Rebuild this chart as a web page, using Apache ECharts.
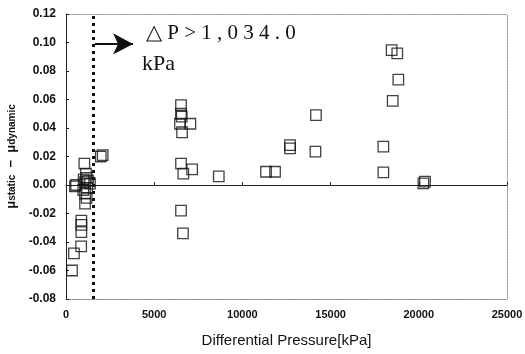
<!DOCTYPE html>
<html>
<head>
<meta charset="utf-8">
<script src="https://cdn.jsdelivr.net/npm/echarts@6/dist/echarts.min.js"></script>
<style>
  html, body { margin: 0; padding: 0; background: #fff; }
  #chart { width: 525px; height: 354px; }
</style>
</head>
<body>
<div id="chart"></div>
<script>
// Differential pressure [kPa] vs static - dynamic friction coefficient
const pressure = [
  340, 450, 860, 870, 870, 870, 1080, 1170, 1080, 980, 510, 570, 1080, 1360, 1170, 1130, 1040, 1250, 1000, 1200,
  1970, 2080,
  6520, 6520, 6560, 6460, 7050, 6580, 6520, 7150, 6650, 6520, 6630,
  8660, 11340, 11850, 12700, 12700, 14170, 14140,
  18460, 18780, 18840, 18520, 17990, 17990, 20260, 20350,
];
const muDiff = [
  -0.060, -0.048, -0.043, -0.033, -0.028, -0.025, -0.013, -0.009, -0.006, -0.0035, -0.001, 0.000, 0.002, 0.001, 0.005, 0.008, 0.015, 0.003, 0.004, -0.002,
  0.020, 0.021,
  0.056, 0.050, 0.048, 0.043, 0.043, 0.037, 0.015, 0.011, 0.008, -0.018, -0.034,
  0.006, 0.0093, 0.0093, 0.0257, 0.028, 0.049, 0.0234,
  0.0947, 0.0924, 0.074, 0.059, 0.027, 0.0089, 0.0012, 0.0023,
];
const thresholdP = 1530;               // dotted threshold line
const arrowFrom = [1640, 0.099];
const arrowTo = [3800, 0.099];

const tickFont = { fontFamily: "Liberation Sans", fontWeight: "bold", color: "#111" };
const solidArrow = { type: "solid", width: 2, color: "#111" };

const chart = echarts.init(document.getElementById("chart"));
chart.setOption({
  animation: false,
  grid: { left: 66, right: 18, top: 14, bottom: 55, containLabel: false, outerBoundsMode: "none" },
  xAxis: [
    {
      type: "value", min: 0, max: 25000, interval: 5000, position: "bottom",
      axisLine: { onZero: false, lineStyle: { color: "#888", type: [2, 1] } },
      axisTick: { show: false },
      splitLine: { show: false },
      axisLabel: { ...tickFont, fontSize: 11, margin: 10, formatter: (v) => String(v) },
      name: "Differential Pressure[kPa]", nameLocation: "middle", nameGap: 34,
      nameTextStyle: { fontFamily: "Liberation Sans", fontSize: 15, color: "#111" },
    },
    {
      // zero line carrying the x ticks
      type: "value", min: 0, max: 25000, interval: 5000, position: "bottom",
      axisLine: { onZero: true, lineStyle: { color: "#222", width: 1 } },
      axisTick: { show: true, inside: true, length: 3, lineStyle: { color: "#222" } },
      axisLabel: { show: false }, splitLine: { show: false },
    },
    {
      type: "value", min: 0, max: 25000, position: "top",
      axisLine: { onZero: false, lineStyle: { color: "#999", type: [2, 1] } },
      axisTick: { show: false }, axisLabel: { show: false }, splitLine: { show: false },
    },
  ],
  yAxis: [
    {
      type: "value", min: -0.08, max: 0.12, interval: 0.02, position: "left",
      axisLine: { show: true, onZero: false, lineStyle: { color: "#222" } },
      axisTick: { show: true, inside: true, length: 3, lineStyle: { color: "#222" } },
      splitLine: { show: false },
      axisLabel: { ...tickFont, fontSize: 12, margin: 10, formatter: (v) => v.toFixed(2) },
      name: "{mu|μ}{sub|static}{mu|  −  μ}{sub|dynamic}",
      nameLocation: "middle", nameGap: 48, nameRotate: 90,
      nameTextStyle: {
        rich: {
          mu: { fontFamily: "Liberation Sans", fontWeight: "bold", fontSize: 13, color: "#111" },
          sub: { fontFamily: "Liberation Sans", fontWeight: "bold", fontSize: 10, color: "#111", padding: [3, 0, 0, 0] },
        },
      },
    },
    {
      type: "value", min: -0.08, max: 0.12, position: "right",
      axisLine: { show: true, onZero: false, lineStyle: { color: "#999", type: [2, 1] } },
      axisTick: { show: false }, axisLabel: { show: false }, splitLine: { show: false },
    },
  ],
  graphic: [
    {
      type: "text", left: 146, top: 23,
      style: { text: "△ P > 1 , 0 3 4 . 0", font: "21px 'Liberation Serif'", fill: "#111" },
    },
    {
      type: "text", left: 142, top: 53,
      style: { text: "kPa", font: "22px 'Liberation Serif'", fill: "#111" },
    },
  ],
  series: [
    {
      type: "scatter",
      xAxisIndex: 0, yAxisIndex: 0,
      data: pressure.map((p, i) => [p, muDiff[i]]),
      symbol: "rect",
      symbolSize: 10.5,
      itemStyle: { color: "rgba(0,0,0,0)", borderColor: "#111", borderWidth: 1.3 },
      markLine: {
        silent: true,
        animation: false,
        label: { show: false },
        lineStyle: { color: "#111", width: 3, type: [3, 4] },
        data: [
          [
            { coord: [thresholdP, -0.08], symbol: "none" },
            { coord: [thresholdP, 0.12], symbol: "none" },
          ],
          [
            { coord: arrowFrom, symbol: "none", lineStyle: solidArrow },
            { coord: arrowTo, symbol: "arrow", symbolSize: [16, 20], lineStyle: solidArrow },
          ],
        ],
      },
    },
  ],
});
</script>
</body>
</html>
